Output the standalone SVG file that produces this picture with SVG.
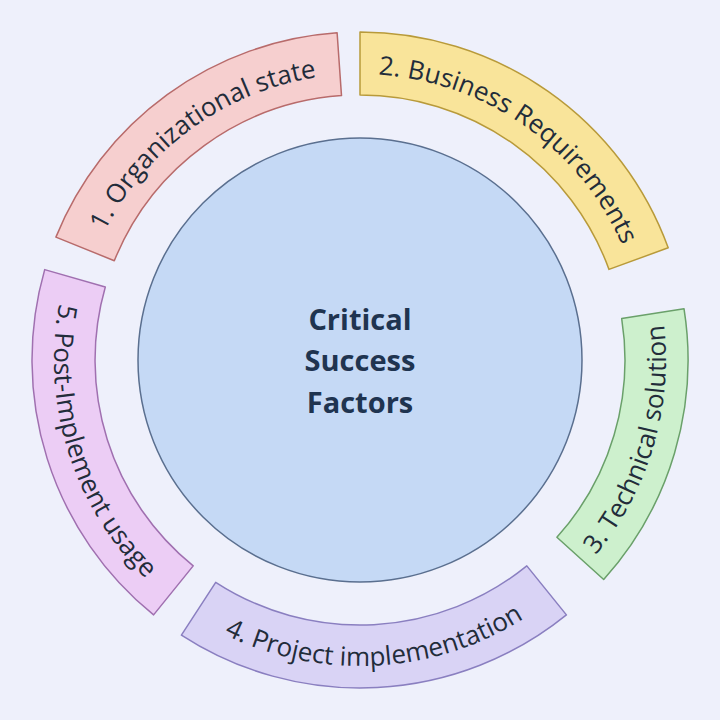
<svg xmlns="http://www.w3.org/2000/svg" xmlns:xlink="http://www.w3.org/1999/xlink" width="720" height="720" viewBox="0 0 720 720">
<style>
.seg{stroke-width:1.5;stroke-linejoin:round}
.lbl{font-family:"Open Sans","Noto Sans",sans-serif;font-size:26px;fill:#222c3a}
.ctr{font-family:"Open Sans","Noto Sans",sans-serif;font-size:29px;font-weight:bold;fill:#1f3450;text-anchor:middle}
</style>
<defs>
<path id="t1" d="M94.8,252.9 A286,286 0 0 1 340,74.7"/>
<path id="t2" d="M360,74 A286,286 0 0 1 628.8,262.2"/>
<path id="t3" d="M587.4,564.7 A306,306 0 0 0 662.2,312.1"/>
<path id="t4" d="M193.4,616.6 A306,306 0 0 0 552.6,597.8"/>
<path id="t5" d="M65.8,275.7 A306,306 0 0 0 167.4,597.8"/>
</defs>
<rect width="720" height="720" fill="#eef0fb"/>
<g id="center">
<circle cx="360" cy="360" r="222" fill="#c5d9f5" stroke="#5a6f8f" stroke-width="1.5"/>
<text class="ctr" x="360" y="330">Critical</text>
<text class="ctr" x="360" y="371">Success</text>
<text class="ctr" x="360" y="413">Factors</text>
</g>
<g id="n1">
<path class="seg" fill="#f6cfcf" stroke="#b86b6b" d="M55.9,237.1 A328,328 0 0 1 337.1,32.8 L341.5,95.6 A265,265 0 0 0 114.3,260.7 Z"/>
<text class="lbl"><textPath xlink:href="#t1" startOffset="50%" text-anchor="middle">1. Organizational state</textPath></text>
</g>
<g id="n2">
<path class="seg" fill="#f9e49a" stroke="#b89a3a" d="M360,32 A328,328 0 0 1 668.2,247.8 L609,269.4 A265,265 0 0 0 360,95 Z"/>
<text class="lbl"><textPath xlink:href="#t2" startOffset="50%" text-anchor="middle">2. Business Requirements</textPath></text>
</g>
<g id="n3">
<path class="seg" fill="#cdf0cd" stroke="#6aa06a" d="M684,308.7 A328,328 0 0 1 603.7,579.5 L556.9,537.3 A265,265 0 0 0 621.7,318.6 Z"/>
<text class="lbl"><textPath xlink:href="#t3" startOffset="50%" text-anchor="middle">3. Technical solution</textPath></text>
</g>
<g id="n4">
<path class="seg" fill="#d9d3f5" stroke="#8a7fc0" d="M566.4,614.9 A328,328 0 0 1 181.4,635.1 L215.7,582.3 A265,265 0 0 0 526.8,565.9 Z"/>
<text class="lbl"><textPath xlink:href="#t4" startOffset="50%" text-anchor="middle">4. Project implementation</textPath></text>
</g>
<g id="n5">
<path class="seg" fill="#eccdf5" stroke="#a070b0" d="M153.6,614.9 A328,328 0 0 1 44.7,269.6 L105.3,287 A265,265 0 0 0 193.2,565.9 Z"/>
<text class="lbl"><textPath xlink:href="#t5" startOffset="50%" text-anchor="middle">5. Post-Implement usage</textPath></text>
</g>
<g id="connectors"/>
</svg>
